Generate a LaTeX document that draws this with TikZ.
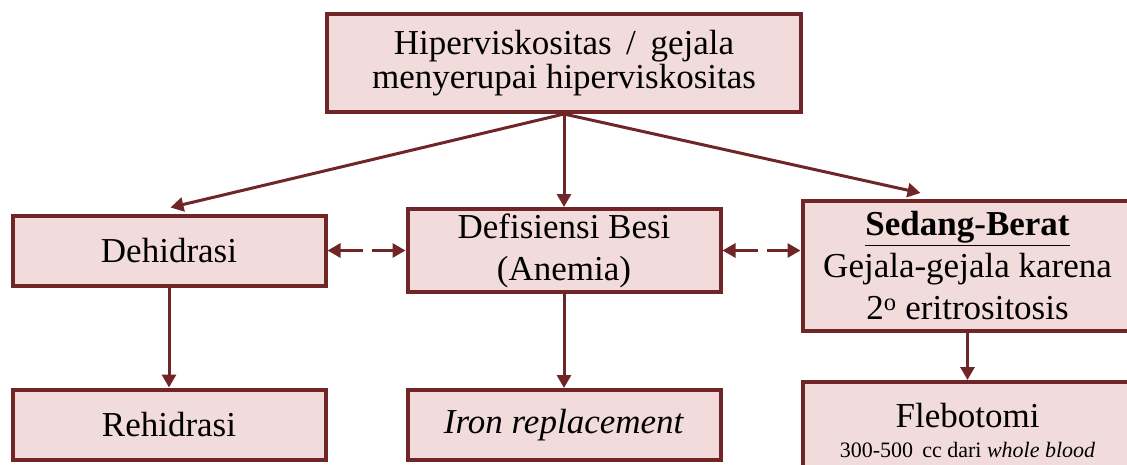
\documentclass[tikz,border=0pt]{standalone}
\usepackage{fontspec}
\setmainfont{Liberation Serif}
\usepackage{tikz}
\usetikzlibrary{arrows.meta,positioning,calc}
\definecolor{boxline}{RGB}{112,38,38}
\definecolor{boxfill}{RGB}{242,220,219}

\begin{document}
\begin{tikzpicture}[>={Triangle[length=13pt,width=14pt]},x=1pt,y=-1pt,
    box/.style={draw=boxline,fill=boxfill,line width=4pt,align=center,inner sep=2pt,
      minimum width=313pt,font=\fontsize{35}{42}\selectfont},
    link/.style={draw=boxline,line width=3pt,->},
    dlink/.style={link,<->,dash pattern=on 23pt off 9pt}]
  \useasboundingbox (0,0) rectangle (1127,464);

  \node[box,minimum width=474pt,minimum height=98pt] (hyper) at (564,63)
       {Hiperviskositas \,/\, gejala\\[-8pt]menyerupai hiperviskositas};
  \node[box,minimum height=83pt] (anemia) [below=93pt of hyper] {Defisiensi Besi\\(Anemia)};
  \node[box,minimum height=70pt] (dehid)  [left=78pt of anemia] {Dehidrasi};
  \node[box,minimum width=330pt,minimum height=130pt] (sedang) [right=78pt of anemia,yshift=-15.5pt]
       {\underline{\textbf{Sedang-Berat}}\\Gejala-gejala karena\\2\textsuperscript{o} eritrositosis};
  \node[box,minimum height=70pt] (rehid) [below=100pt of dehid] {Rehidrasi};
  \node[box,minimum height=70pt] (iron)  [below=94pt of anemia] {\textit{Iron replacement}};
  \node[box,minimum width=330pt,minimum height=96pt] (fleb) [below=47pt of sedang]
       {Flebotomi\\[-12pt]{\fontsize{22}{24}\selectfont 300-500 \,cc dari \textit{whole blood}}};

  \coordinate (tipL) at ($(dehid.north)+(1.5pt,6pt)$);
  \coordinate (tipR) at ($(sedang.north)+(-47pt,6pt)$);

  \draw[link] (hyper.south) -- (tipL);
  \draw[link] (hyper.south) -- (anemia.north);
  \draw[link] (hyper.south) -- (tipR);
  \draw[dlink] (dehid.east) -- (anemia.west);
  \draw[dlink] (anemia.east) -- (anemia.east -| sedang.west);
  \draw[link] (dehid.south) -- (rehid.north);
  \draw[link] (anemia.south) -- (iron.north);
  \draw[link] (sedang.south) -- (fleb.north);
\end{tikzpicture}
\end{document}
